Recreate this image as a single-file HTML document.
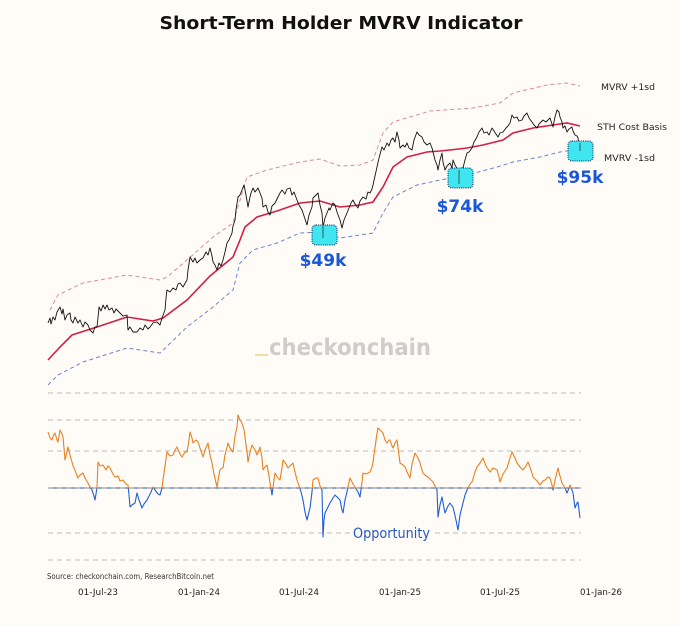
<!DOCTYPE html>
<html><head><meta charset="utf-8">
<style>
html,body{margin:0;padding:0;background:#fffcf8;}
svg{display:block;font-family:"DejaVu Sans","Liberation Sans",sans-serif;}
</style></head>
<body>
<svg width="680" height="626" viewBox="0 0 680 626" xmlns="http://www.w3.org/2000/svg">
<rect width="680" height="626" fill="#fffcf8"/>
<text x="341" y="29" text-anchor="middle" font-size="17.5" font-weight="bold" fill="#111" textLength="363" lengthAdjust="spacingAndGlyphs">Short-Term Holder MVRV Indicator</text>

<!-- watermark -->
<text x="269" y="355" font-size="23" font-weight="bold" fill="#cdcdcd" textLength="162" lengthAdjust="spacingAndGlyphs">checkonchain</text>
<rect x="255" y="354" width="13" height="2" fill="#f0dfa0"/>

<!-- upper band -->
<polyline fill="none" stroke="#d98a9a" stroke-width="1" stroke-dasharray="4,3" points="50,310 58,295 83,283 127,275 160,280 167,277 187,260 213,237 233,223 240,200 247,177 267,170 300,162 320,159 340,166 360,165 373,160 383,133 393,122 430,111 473,108 500,103 513,93 547,85 567,83 580,86"/>
<!-- lower band -->
<polyline fill="none" stroke="#6688cc" stroke-width="1" stroke-dasharray="4,3" points="48,385 58,375 83,362 127,348 160,353 187,327 213,307 233,290 240,263 253,250 277,243 300,233 320,232 340,238 360,235 373,233 383,213 393,197 417,185 440,180 467,175 497,167 513,162 540,157 560,152 573,150"/>
<!-- cost basis -->
<polyline fill="none" stroke="#d21f45" stroke-width="1.6" points="48,360 60,347 72,335 97,327 127,317 153,321 163,318 187,300 210,276 233,257 240,240 245,227 257,217 277,211 300,203 320,201 340,207 360,205 373,202 383,187 393,167 407,157 427,152 440,151 450,150 467,148 483,145 503,140 513,133 533,128 553,125 567,123 580,126"/>

<!-- price -->
<polyline fill="none" stroke="#111" stroke-width="0.9" stroke-linejoin="round" points="48,323 50,318 51,324 53,317 55,320 57,312 60,307 62,314 63,309 65,320 67,315 70,313 71,320 73,323 75,317 78,323 80,320 83,327 85,322 88,325 90,330 93,333 95,327 97,327 98,318 99,307 101,311 103,305 105,309 107,305 109,310 112,308 114,313 116,309 120,313 123,316 127,315 128,330 130,327 133,332 137,332 140,328 143,330 145,325 148,329 150,327 153,323 157,322 160,325 162,318 165,310 166,298 167,290 170,292 173,288 176,290 178,284 180,283 183,287 187,280 188,270 190,257 193,262 195,258 197,263 200,260 203,258 206,252 208,255 210,248 212,256 213,262 215,265 217,270 219,263 221,266 223,260 225,252 227,243 229,240 232,233 233,226 235,220 236,210 238,197 240,195 242,190 244,185 246,195 248,207 250,197 251,193 253,188 255,192 258,188 260,193 262,198 263,207 266,205 268,212 270,215 272,206 275,203 278,197 280,193 282,190 285,194 287,189 290,188 292,195 294,192 297,200 299,205 302,210 304,216 306,222 307,225 309,215 312,207 313,198 315,196 318,193 320,205 322,213 323,227 325,218 327,213 329,208 330,210 333,203 335,205 337,212 340,220 342,228 344,220 347,213 349,208 351,203 353,200 355,204 358,208 360,201 363,197 366,199 368,192 370,193 372,189 373,185 375,176 377,167 379,158 382,147 384,150 387,143 389,146 391,140 393,138 395,142 397,132 399,140 400,148 403,145 405,147 407,143 409,148 412,150 414,140 417,132 419,135 422,137 424,142 427,145 430,143 432,148 435,160 437,165 438,170 440,160 442,153 443,162 445,170 447,166 450,163 452,168 453,160 455,165 458,170 460,175 461,168 463,168 465,160 467,153 469,152 472,148 474,142 477,137 479,132 482,128 484,133 487,132 489,135 492,128 494,131 496,134 498,137 500,133 503,132 506,128 508,126 510,123 512,115 514,118 517,117 519,121 522,120 524,116 527,113 529,118 532,122 534,125 537,128 539,124 541,122 543,120 546,122 548,120 550,118 552,124 553,127 555,117 557,110 559,112 560,117 562,122 563,128 565,126 567,132 569,129 572,127 573,131 575,135 577,136 578,138 579,146 580,152"/>

<!-- boxes -->
<rect x="312" y="225" width="25" height="20" rx="4" fill="#3fe6f0" stroke="#114" stroke-width="1" stroke-dasharray="1,1.2"/>
<line x1="323" y1="225" x2="323" y2="238" stroke="#333" stroke-width="0.8"/>
<rect x="448" y="168" width="25" height="20" rx="4" fill="#3fe6f0" stroke="#114" stroke-width="1" stroke-dasharray="1,1.2"/>
<line x1="459" y1="170" x2="459" y2="184" stroke="#333" stroke-width="0.8"/>
<rect x="568" y="141" width="25" height="20" rx="4" fill="#3fe6f0" stroke="#114" stroke-width="1" stroke-dasharray="1,1.2"/>
<line x1="580" y1="143" x2="580" y2="151" stroke="#333" stroke-width="0.8"/>

<text x="323" y="266" text-anchor="middle" font-size="17" font-weight="bold" fill="#1a56d8">$49k</text>
<text x="460" y="212" text-anchor="middle" font-size="17" font-weight="bold" fill="#1a56d8">$74k</text>
<text x="580" y="183" text-anchor="middle" font-size="17" font-weight="bold" fill="#1a56d8">$95k</text>

<text x="601" y="90" font-size="9" fill="#222" textLength="54" lengthAdjust="spacingAndGlyphs">MVRV +1sd</text>
<text x="597" y="130" font-size="9" fill="#222" textLength="70" lengthAdjust="spacingAndGlyphs">STH Cost Basis</text>
<text x="604" y="161" font-size="9" fill="#222" textLength="51" lengthAdjust="spacingAndGlyphs">MVRV -1sd</text>

<!-- lower panel grid -->
<g stroke="#bbbbbb" stroke-width="1" stroke-dasharray="5,4">
<line x1="48" y1="393" x2="581" y2="393"/>
<line x1="48" y1="420" x2="581" y2="420"/>
<line x1="48" y1="451" x2="581" y2="451"/>
<line x1="48" y1="533" x2="581" y2="533"/>
<line x1="48" y1="560" x2="581" y2="560"/>
</g>
<line x1="48" y1="488" x2="581" y2="488" stroke="#4a78c8" stroke-width="1.2"/>
<line x1="48" y1="488" x2="581" y2="488" stroke="#b8a890" stroke-width="1" stroke-dasharray="5,4"/>

<defs>
<clipPath id="above"><rect x="0" y="0" width="680" height="488.5"/></clipPath>
<clipPath id="below"><rect x="0" y="488.5" width="680" height="200"/></clipPath>
<polyline id="osc" fill="none" stroke-width="1.1" stroke-linejoin="round" points="48,432 50,438 52,440 54,434 55,433 57,440 58,442 60,430 62,434 63,437 64,448 65,460 67,452 68,447 70,455 72,462 73,466 75,470 77,476 78,478 80,475 83,473 85,478 88,483 90,487 92,490 94,496 95,500 96,494 97,487 98,462 100,466 103,465 106,470 108,466 110,468 113,474 115,477 118,476 120,481 123,480 126,484 128,485 129,495 130,507 132,505 135,503 136,498 137,493 139,500 142,508 144,504 147,500 149,496 151,492 153,487 155,490 158,494 160,495 162,488 163,480 165,466 167,452 170,456 173,455 175,450 177,447 180,454 182,457 185,452 187,452 189,440 190,432 192,438 193,443 196,440 198,442 200,448 203,457 205,450 208,443 210,455 212,463 214,474 217,487 219,475 220,470 222,468 223,468 225,455 228,443 230,448 233,452 235,436 237,427 238,415 240,420 242,423 244,430 245,437 247,452 248,462 250,452 252,445 255,450 257,455 259,450 260,447 262,458 263,470 265,467 267,465 269,476 270,483 272,495 274,480 275,473 278,478 280,480 282,468 283,460 286,464 288,468 290,466 293,463 295,472 297,480 299,486 300,488 302,496 303,500 305,512 307,520 309,512 310,508 312,492 313,480 316,478 318,478 320,486 322,490 323,537 324,520 325,513 328,507 330,503 333,498 335,495 338,498 340,500 342,510 343,513 345,500 347,492 349,482 350,478 353,484 355,487 358,492 360,497 362,482 363,473 366,474 370,472 372,467 373,462 375,448 377,433 378,428 381,431 383,433 385,440 387,443 389,440 390,440 392,446 393,448 395,443 397,440 399,455 400,463 403,465 405,467 408,474 410,478 412,464 415,453 418,458 420,463 422,470 423,473 426,476 428,477 431,480 433,482 435,486 437,490 438,517 440,505 442,497 444,508 445,513 448,506 450,503 452,506 453,507 456,520 458,530 460,515 462,507 465,495 467,490 470,484 472,482 475,472 477,467 480,463 483,458 486,466 490,472 493,468 497,470 499,477 500,482 503,474 507,468 510,458 512,452 515,458 517,463 520,467 523,470 526,466 528,462 531,470 533,477 537,481 540,485 543,481 545,480 548,477 550,478 552,485 553,490 556,476 558,468 560,476 562,483 565,488 567,493 569,488 570,485 572,490 573,493 575,508 577,503 578,502 579,510 580,518"/>
</defs>
<use href="#osc" stroke="#e8801e" clip-path="url(#above)"/>
<use href="#osc" stroke="#1f5fd6" clip-path="url(#below)"/>

<rect x="350" y="524" width="84" height="17" fill="#fffcf8"/>
<text x="353" y="538" font-size="14" fill="#2358c0" textLength="77" lengthAdjust="spacingAndGlyphs">Opportunity</text>

<text x="47" y="579" font-size="7.5" fill="#333" textLength="167" lengthAdjust="spacingAndGlyphs">Source: checkonchain.com, ResearchBitcoin.net</text>

<g font-size="8.5" fill="#222" text-anchor="middle">
<text x="98" y="595" textLength="40" lengthAdjust="spacingAndGlyphs">01-Jul-23</text>
<text x="199" y="595" textLength="42" lengthAdjust="spacingAndGlyphs">01-Jan-24</text>
<text x="299" y="595" textLength="40" lengthAdjust="spacingAndGlyphs">01-Jul-24</text>
<text x="400" y="595" textLength="42" lengthAdjust="spacingAndGlyphs">01-Jan-25</text>
<text x="500" y="595" textLength="40" lengthAdjust="spacingAndGlyphs">01-Jul-25</text>
<text x="601" y="595" textLength="42" lengthAdjust="spacingAndGlyphs">01-Jan-26</text>
</g>
</svg>
</body></html>
